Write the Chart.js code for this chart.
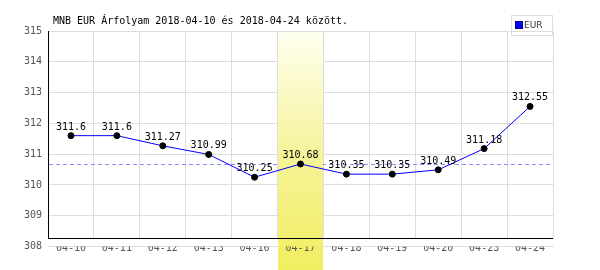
<!DOCTYPE html>
<html><head><meta charset="utf-8">
<script src="https://cdn.jsdelivr.net/npm/chart.js@4"></script>
<style>html,body{margin:0;padding:0;background:#fff}canvas{display:block}</style>
</head><body>
<canvas id="c" width="600" height="270"></canvas>
<script>
const titleText = 'MNB EUR Árfolyam 2018-04-10 és 2018-04-24 között.';
const seriesName = 'EUR';
const categories = ['04-10','04-11','04-12','04-13','04-16','04-17','04-18','04-19','04-20','04-23','04-24'];
const rates = [311.6, 311.6, 311.27, 310.99, 310.25, 310.68, 310.35, 310.35, 310.49, 311.18, 312.55];
const yMin = 308, yMax = 315, yStep = 1;
const referenceRate = 310.68;
const highlightIndex = 5;

const MONO = '"DejaVu Sans Mono", "Liberation Mono", monospace';
const SANS = '"DejaVu Sans", "Liberation Sans", sans-serif';

const decor = {
  id: 'decor',
  beforeDatasetsDraw(chart) {
    const {ctx, chartArea: a, scales: {x, y}} = chart;
    const L = Math.round(a.left), R = Math.round(a.right);
    const top = Math.round(a.top);
    const axisRow = Math.round(a.bottom) - 9;
    ctx.save();
    // hide grid below the x axis line
    ctx.fillStyle = '#ffffff';
    ctx.fillRect(L - 1, axisRow + 1, R - L + 3, Math.floor(a.bottom) - axisRow - 1);
    // reference dashed line
    const ry = Math.round(y.getPixelForValue(referenceRate)) + 0.5;
    ctx.strokeStyle = '#8c8cff';
    ctx.lineWidth = 1;
    ctx.setLineDash([4, 3]);
    ctx.beginPath();
    ctx.moveTo(L + 1, ry);
    ctx.lineTo(R, ry);
    ctx.stroke();
    ctx.setLineDash([]);
    // highlight band
    const cw = (a.right - a.left) / categories.length;
    const cx = x.getPixelForValue(highlightIndex);
    const xs = Math.round(cx - cw / 2), xe = Math.round(cx + cw / 2);
    const g = ctx.createLinearGradient(0, top, 0, chart.height);
    g.addColorStop(0, 'rgb(255,255,242)');
    g.addColorStop(0.5, 'rgb(246,244,155)');
    g.addColorStop(1, 'rgb(240,238,96)');
    ctx.fillStyle = g;
    ctx.fillRect(xs, top + 1, xe - xs, chart.height - top - 1);
    // axis lines
    ctx.fillStyle = '#000';
    ctx.fillRect(L, top, 1, axisRow - top + 1);
    ctx.fillRect(L, axisRow, R - L, 1);
    ctx.restore();
  },
  afterDatasetsDraw(chart) {
    const {ctx} = chart;
    const meta = chart.getDatasetMeta(0);
    ctx.save();
    ctx.font = '10px ' + MONO;
    ctx.fillStyle = '#000';
    ctx.textAlign = 'center';
    ctx.textBaseline = 'alphabetic';
    meta.data.forEach((pt, i) => {
      ctx.fillText(String(rates[i]), pt.x, pt.y - 6);
    });
    ctx.restore();
  },
  afterDraw(chart) {
    const {ctx, chartArea: a} = chart;
    ctx.save();
    // title
    ctx.font = '10px ' + MONO;
    ctx.fillStyle = '#000';
    ctx.textAlign = 'left';
    ctx.textBaseline = 'alphabetic';
    ctx.fillText(titleText, a.left + 5, 24);
    // legend
    const lx = Math.round(a.right) - 42, ly = 15;
    ctx.strokeStyle = '#dddddd';
    ctx.lineWidth = 1;
    ctx.strokeRect(lx + 0.5, ly + 0.5, 41, 20);
    ctx.fillStyle = '#0000ff';
    ctx.fillRect(lx + 5, ly + 7, 6, 6);
    ctx.strokeStyle = '#000080';
    ctx.strokeRect(lx + 4.5, ly + 6.5, 7, 7);
    ctx.font = '9px ' + SANS;
    ctx.fillStyle = '#333';
    ctx.textBaseline = 'middle';
    ctx.fillText(seriesName, lx + 13, ly + 10.5);
    ctx.restore();
  }
};

new Chart(document.getElementById('c'), {
  type: 'line',
  data: {
    labels: categories,
    datasets: [{
      label: seriesName,
      data: rates,
      borderColor: '#0000ff',
      borderWidth: 1,
      tension: 0,
      fill: false,
      pointRadius: 3,
      pointBorderWidth: 1,
      pointBackgroundColor: '#000',
      pointBorderColor: '#000'
    }]
  },
  options: {
    responsive: false,
    animation: false,
    devicePixelRatio: 1,
    layout: {padding: {left: 0, top: 31, right: 47, bottom: 0}},
    plugins: {legend: {display: false}, tooltip: {enabled: false}, title: {display: false}},
    scales: {
      x: {
        offset: true,
        grid: {offset: true, color: '#dddddd', drawTicks: false},
        border: {display: false},
        ticks: {font: {family: MONO, size: 10}, color: '#555', padding: -4, maxRotation: 0, autoSkip: false, z: 1},
        afterFit(s) { s.height = 23.5; }
      },
      y: {
        min: yMin, max: yMax,
        grid: {color: '#dddddd', drawTicks: false},
        border: {display: false},
        ticks: {stepSize: yStep, font: {family: MONO, size: 10}, color: '#555', padding: 6},
        afterFit(s) { s.width = 48; }
      }
    }
  },
  plugins: [decor]
});
</script>
</body></html>
